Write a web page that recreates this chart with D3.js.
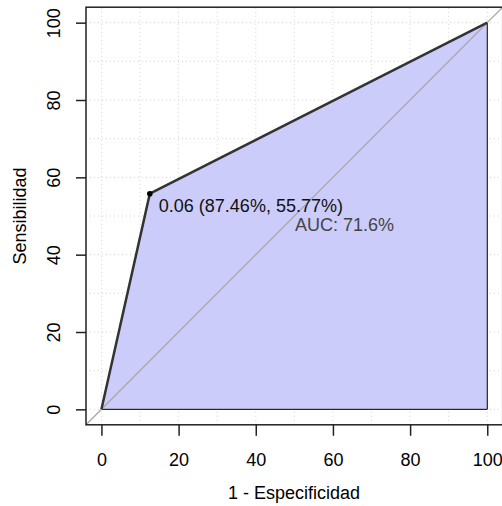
<!DOCTYPE html>
<html>
<head>
<meta charset="utf-8">
<script src="https://cdn.jsdelivr.net/npm/d3@7"></script>
<style>
body { margin: 0; background: #fff; }
text { font-family: "Liberation Sans", Arial, sans-serif; }
</style>
</head>
<body>
<div id="chart"></div>
<script>
// ROC curve points (x = 1 - especificidad, y = sensibilidad), in %
var rocX = [0, 12.54, 100];
var rocY = [0, 55.77, 100];
var bestThr = "0.06 (87.46%, 55.77%)";
var bestPt = [12.54, 55.77];
var aucText = "AUC: 71.6%";
var ticks = [0, 20, 40, 60, 80, 100];
var gridVals = [0, 10, 20, 30, 40, 50, 60, 70, 80, 90, 100];

var w = 502, h = 506;
var fs = "18px";

// plot region (R style, 4% padding)
var x = d3.scaleLinear().domain([-4, 104]).range([86, 502.7]);
var y = d3.scaleLinear().domain([-4, 104]).range([424.8, 7.2]);

var svg = d3.select("#chart").append("svg")
  .attr("width", w)
  .attr("height", h);

var plot = svg.append("g");

// grid
plot.selectAll(".gx").data(gridVals).enter().append("line")
  .attr("x1", d => x(d)).attr("x2", d => x(d))
  .attr("y1", y(-4)).attr("y2", y(104))
  .attr("stroke", "#d3d3d3").attr("stroke-dasharray", "1,3");
plot.selectAll(".gy").data(gridVals).enter().append("line")
  .attr("y1", d => y(d)).attr("y2", d => y(d))
  .attr("x1", x(-4)).attr("x2", x(104))
  .attr("stroke", "#d3d3d3").attr("stroke-dasharray", "1,3");

// AUC polygon
var poly = rocX.map((d, i) => [x(d), y(rocY[i])]);
poly.push([x(100), y(0)]);
plot.append("polygon")
  .attr("points", poly.map(p => p.join(",")).join(" "))
  .attr("fill", "#ccccfa")
  .attr("stroke", "#000")
  .attr("stroke-width", 1);

// diagonal
plot.append("line")
  .attr("x1", x(-4)).attr("y1", y(-4))
  .attr("x2", x(104)).attr("y2", y(104))
  .attr("stroke", "#a8a8a8").attr("stroke-width", 1.3);

// ROC line
var line = d3.line().x(d => x(d[0])).y(d => y(d[1]));
plot.append("path")
  .datum(rocX.map((d, i) => [d, rocY[i]]))
  .attr("d", line)
  .attr("fill", "none")
  .attr("stroke", "#333")
  .attr("stroke-width", 2.5);

// best threshold
plot.append("circle")
  .attr("cx", x(bestPt[0])).attr("cy", y(bestPt[1]))
  .attr("r", 2.8).attr("fill", "#000");
plot.append("text")
  .attr("x", x(bestPt[0]) + 9).attr("y", y(bestPt[1]) + 18)
  .attr("font-size", fs).attr("fill", "#111")
  .text(bestThr);

plot.append("text")
  .attr("x", 295).attr("y", 231)
  .attr("font-size", fs).attr("fill", "#444")
  .text(aucText);

// box
svg.append("rect")
  .attr("x", x(-4)).attr("y", y(104))
  .attr("width", x(104) - x(-4)).attr("height", y(-4) - y(104))
  .attr("fill", "none").attr("stroke", "#222").attr("stroke-width", 1.5);

// axes
var xAxis = d3.axisBottom(x).tickValues(ticks).tickSize(11).tickPadding(17);
var gx = svg.append("g").attr("transform", "translate(0," + y(-4) + ")").call(xAxis);
gx.select(".domain").remove();
gx.selectAll("line").attr("stroke", "#222").attr("stroke-width", 1.5);
gx.selectAll("text").attr("font-size", fs).attr("fill", "#000")
  .style("font-family", "Liberation Sans, Arial, sans-serif");

var yAxis = d3.axisLeft(y).tickValues(ticks).tickSize(10);
var gy = svg.append("g").attr("transform", "translate(" + x(-4) + ",0)").call(yAxis);
gy.select(".domain").remove();
gy.selectAll("line").attr("stroke", "#222").attr("stroke-width", 1.5);
gy.selectAll("text")
  .attr("x", null).attr("dy", null)
  .attr("text-anchor", "middle")
  .attr("transform", "translate(-26,0) rotate(-90)")
  .attr("font-size", fs).attr("fill", "#000")
  .style("font-family", "Liberation Sans, Arial, sans-serif");

// axis titles
svg.append("text")
  .attr("x", 294).attr("y", 499)
  .attr("text-anchor", "middle").attr("font-size", fs)
  .text("1 - Especificidad");
svg.append("text")
  .attr("transform", "translate(26," + y(50) + ") rotate(-90)")
  .attr("text-anchor", "middle").attr("font-size", fs)
  .text("Sensibilidad");
</script>
</body>
</html>
